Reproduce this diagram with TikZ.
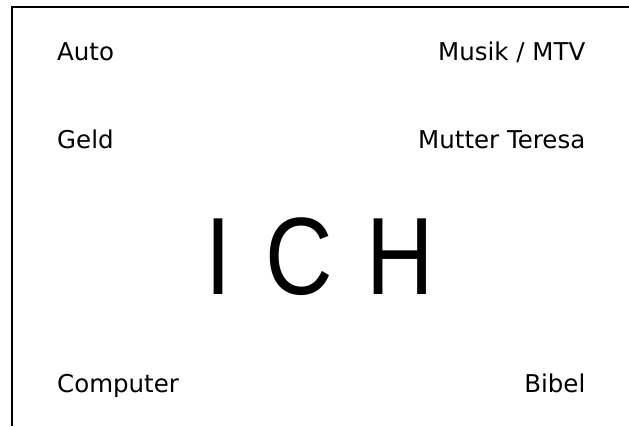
\documentclass[tikz,border=0pt]{standalone}
\usepackage{fontspec}
\newfontfamily\labelfont{DejaVu Sans}
\newfontfamily\ichfont{Liberation Sans}[FakeStretch=0.85]
\newcommand\wordsize{\labelfont\fontsize{24.5bp}{24.5bp}\selectfont}
\newcommand\ichsize{\ichfont\fontsize{110bp}{110bp}\selectfont\spaceskip=34bp\relax}
\tikzset{
  word/.style={font=\wordsize,inner sep=0pt},
  ich/.style={font=\ichsize,inner sep=0pt}
}
\begin{document}
\begin{tikzpicture}[x=1bp,y=-1bp]
\useasboundingbox (0,0) rectangle (629,426);
\draw[line width=2bp] (11.5,426) -- (11.5,7.3) -- (629,7.3);

\node[word,anchor=base west] (auto) at (57,60) {Auto};
\node[word,anchor=base east] (musik) at (585.5,60) {Musik / MTV};
\node[word,anchor=base west] (geld) at (57,148.5) {Geld};
\node[word,anchor=base east] (teresa) at (585.5,148.5) {Mutter Teresa};
\node[ich,anchor=base west] (ich) at (205,294.3) {I C H};
\node[word,anchor=base west] (computer) at (57,392) {Computer};
\node[word,anchor=base east] (bibel) at (585.5,392) {Bibel};
\end{tikzpicture}
\end{document}
